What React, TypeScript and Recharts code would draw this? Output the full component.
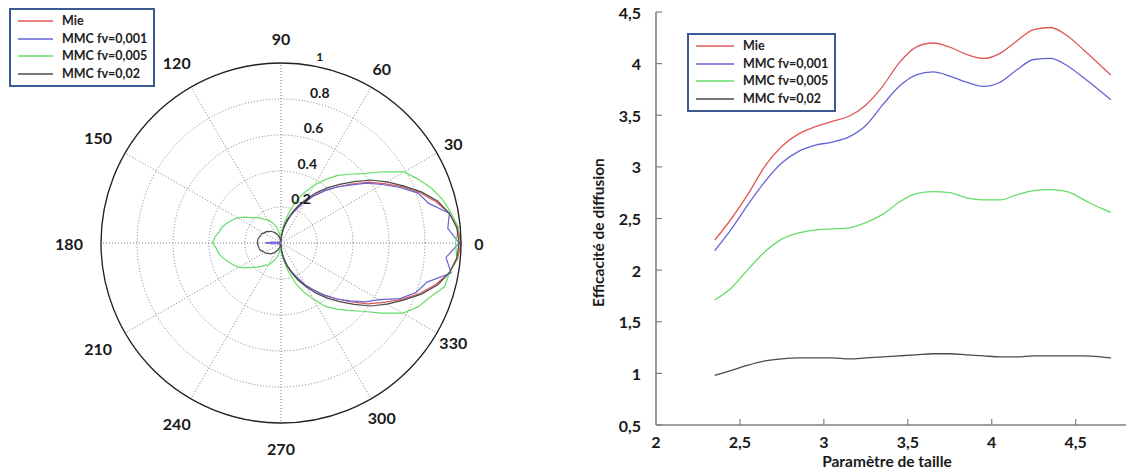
import React from "react";
import {
  RadarChart,
  PolarGrid,
  PolarAngleAxis,
  PolarRadiusAxis,
  Radar,
  Legend,
  LineChart,
  Line,
  XAxis,
  YAxis,
  Label,
} from "recharts";

// ---- polar plot (phase function, normalised) ----
const angles = [
  0, 5, 10, 15, 20, 25, 30, 35, 40, 45, 50, 55, 60, 65, 70, 75, 80, 85, 90,
  95, 100, 105, 110, 115, 120, 125, 130, 135, 140, 145, 150, 155, 160, 165,
  170, 175, 180, 185, 190, 195, 200, 205, 210, 215, 220, 225, 230, 235, 240,
  245, 250, 255, 260, 265, 270, 275, 280, 285, 290, 295, 300, 305, 310, 315,
  320, 325, 330, 335, 340, 345, 350, 355,
];

const mie = [
  1.0, 0.985, 0.95, 0.89, 0.82, 0.74, 0.66, 0.59, 0.51, 0.44, 0.38, 0.32, 0.27,
  0.22, 0.17, 0.13, 0.09, 0.05, 0.02,
  0.01, 0.01, 0.01, 0.01, 0.01, 0.01, 0.01, 0.01, 0.01, 0.01, 0.01, 0.01, 0.01,
  0.01, 0.01, 0.01, 0.01, 0.01, 0.01, 0.01, 0.01, 0.01, 0.01, 0.01, 0.01, 0.01,
  0.01, 0.01, 0.01, 0.01, 0.01, 0.01, 0.01, 0.01, 0.01,
  0.02, 0.05, 0.09, 0.13, 0.17, 0.22, 0.27, 0.32, 0.38, 0.44, 0.51, 0.59, 0.66,
  0.74, 0.82, 0.89, 0.95, 0.985,
];

const mmc001 = [
  0.99, 0.93, 0.95, 0.85, 0.81, 0.73, 0.65, 0.58, 0.5, 0.44, 0.38, 0.32, 0.27,
  0.21, 0.17, 0.12, 0.08, 0.05, 0.02,
  0.01, 0.01, 0.01, 0.01, 0.01, 0.01, 0.01, 0.01, 0.01, 0.01, 0.01, 0.01, 0.01,
  0.01, 0.01,
  0.02, 0.05, 0.09, 0.05, 0.02,
  0.01, 0.01, 0.01, 0.01, 0.01, 0.01, 0.01, 0.01, 0.01, 0.01, 0.01, 0.01, 0.01,
  0.01, 0.01,
  0.02, 0.05, 0.08, 0.13, 0.17, 0.21, 0.27, 0.32, 0.38, 0.44, 0.5, 0.57, 0.63,
  0.73, 0.8, 0.84, 0.96, 0.92,
];

const mmc005 = [
  0.97, 0.99, 0.96, 0.93, 0.89, 0.84, 0.79, 0.69, 0.6, 0.54, 0.49, 0.43, 0.37,
  0.31, 0.25, 0.18, 0.12, 0.07, 0.04,
  0.03, 0.06, 0.09, 0.11, 0.13, 0.15, 0.16, 0.18, 0.2, 0.22, 0.25, 0.28, 0.3,
  0.32, 0.34, 0.35, 0.37, 0.38,
  0.36, 0.35, 0.33, 0.31, 0.29, 0.27, 0.24, 0.21, 0.19, 0.17, 0.15, 0.14, 0.12,
  0.1, 0.08, 0.05, 0.03,
  0.04, 0.07, 0.11, 0.17, 0.24, 0.3, 0.36, 0.43, 0.48, 0.53, 0.59, 0.68, 0.78,
  0.84, 0.88, 0.94, 0.95, 0.98,
];

const mmc02 = [
  0.99, 0.98, 0.95, 0.9, 0.83, 0.75, 0.68, 0.61, 0.53, 0.46, 0.4, 0.34, 0.28,
  0.23, 0.18, 0.13, 0.09, 0.05, 0.01,
  0.01, 0.02, 0.035, 0.045, 0.055, 0.065, 0.075, 0.085, 0.09, 0.1, 0.105, 0.11,
  0.12, 0.12, 0.125, 0.13, 0.13, 0.13,
  0.13, 0.125, 0.125, 0.12, 0.11, 0.105, 0.1, 0.09, 0.085, 0.075, 0.065, 0.055,
  0.045, 0.035, 0.02, 0.01, 0.01,
  0.01, 0.05, 0.09, 0.13, 0.18, 0.23, 0.28, 0.34, 0.4, 0.46, 0.53, 0.61, 0.68,
  0.75, 0.83, 0.9, 0.95, 0.98,
];

const gridAngles = [0, 30, 60, 90, 120, 150, 180, 210, 240, 270, 300, 330];
const radiusTicks = [0, 0.2, 0.4, 0.6, 0.8, 1];

// ---- efficiency vs size parameter ----
const sizeParam = [
  2.35, 2.45, 2.55, 2.65, 2.75, 2.85, 2.95, 3.05, 3.15, 3.25, 3.35, 3.45, 3.55,
  3.65, 3.75, 3.85, 3.95, 4.05, 4.15, 4.25, 4.35, 4.45, 4.55, 4.65, 4.71,
];
const qMie = [
  2.29, 2.5, 2.74, 3.01, 3.2, 3.32, 3.39, 3.44, 3.49, 3.6, 3.78, 4.01, 4.16,
  4.2, 4.16, 4.09, 4.05, 4.1, 4.22, 4.33, 4.35, 4.27, 4.13, 3.98, 3.89,
];
const q001 = [
  2.19, 2.4, 2.64, 2.86, 3.04, 3.15, 3.21, 3.24, 3.29, 3.4, 3.6, 3.78, 3.89,
  3.92, 3.88, 3.82, 3.78, 3.82, 3.94, 4.04, 4.05, 3.98, 3.86, 3.73, 3.65,
];
const q005 = [
  1.71, 1.83, 2.01, 2.18, 2.3, 2.36, 2.39, 2.4, 2.41, 2.46, 2.54, 2.66, 2.74,
  2.76, 2.75, 2.7, 2.68, 2.68, 2.73, 2.77, 2.78, 2.76, 2.68, 2.6, 2.56,
];
const q02 = [
  0.98, 1.03, 1.08, 1.12, 1.14, 1.15, 1.15, 1.15, 1.14, 1.15, 1.16, 1.17, 1.18,
  1.19, 1.19, 1.18, 1.17, 1.16, 1.16, 1.17, 1.17, 1.17, 1.17, 1.16, 1.15,
];
const xTicks = [2, 2.5, 3, 3.5, 4, 4.5];
const yTicks = [0.5, 1, 1.5, 2, 2.5, 3, 3.5, 4, 4.5];

const seriesNames = ["Mie", "MMC fv=0,001", "MMC fv=0,005", "MMC fv=0,02"];
const seriesKeys = ["mie", "f001", "f005", "f02"];
const COLORS = ["#e05858", "#6565d6", "#66dd66", "#4a4a4a"];

const FONT = "Lato, 'Open Sans', sans-serif";
const AXIS = "#808080";

const polarData = angles.map((a, i) => ({
  angle: a,
  mie: mie[i],
  f001: mmc001[i],
  f005: mmc005[i],
  f02: mmc02[i],
}));

const lineData = sizeParam.map((x, i) => ({
  x,
  mie: qMie[i],
  f001: q001[i],
  f005: q005[i],
  f02: q02[i],
}));

const comma = (v: number) => String(v).replace(".", ",");

function LegendBox({ lineLen }: { lineLen: number }) {
  return (
    <div
      style={{
        display: "inline-block",
        border: "2px solid #3a5b8f",
        background: "#fff",
        padding: "2px 6px 2px 7px",
        fontFamily: FONT,
        fontWeight: 700,
        fontSize: 12.5,
        lineHeight: "17.7px",
        color: "#222",
      }}
    >
      {seriesNames.map((n, i) => (
        <div
          key={n}
          style={{ display: "flex", alignItems: "center", whiteSpace: "nowrap" }}
        >
          <svg width={lineLen} height={4} style={{ marginRight: 9 }}>
            <line x1={0} y1={2} x2={lineLen} y2={2} stroke={COLORS[i]} strokeWidth={1.5} />
          </svg>
          <span>{n}</span>
        </div>
      ))}
    </div>
  );
}

const CX = 281;
const CY = 243;
const R = 180;

// labels placed by their angle value (the band scale shifts tick coordinates)
const AngleTick = (props: any) => {
  const { payload } = props;
  const v = Number(payload.value);
  if (v % 30 !== 0) return <g />;
  const rad = (-v * Math.PI) / 180;
  const lr = R + 25 - 7 * Math.cos(rad);
  const lx = CX + lr * Math.cos(rad);
  const ly = CY + lr * Math.sin(rad);
  return (
    <text
      x={lx}
      y={ly}
      textAnchor="middle"
      dominantBaseline="central"
      fontFamily={FONT}
      fontWeight={700}
      fontSize={16}
      fill="#1a1a1a"
    >
      {v}
    </text>
  );
};

const RadiusTick = (props: any) => {
  const { x, y, payload } = props;
  if (payload.value === 0) return <g />;
  return (
    <text
      x={x + 4}
      y={y - 9}
      textAnchor="start"
      dominantBaseline="central"
      fontFamily={FONT}
      fontWeight={700}
      fontSize={payload.value === 1 ? 12 : 14}
      fill="#1a1a1a"
    >
      {Number(Number(payload.value).toFixed(1))}
    </text>
  );
};

const YTick = (props: any) => {
  const { x, y, payload } = props;
  return (
    <g>
      <line x1={x + 15} y1={y} x2={x + 21} y2={y} stroke={AXIS} strokeWidth={1.2} />
      <text
        x={x}
        y={y}
        textAnchor="end"
        dominantBaseline="central"
        fontFamily={FONT}
        fontWeight={700}
        fontSize={16}
        fill="#1a1a1a"
      >
        {comma(payload.value)}
      </text>
    </g>
  );
};

const XTick = (props: any) => {
  const { x, y, payload } = props;
  return (
    <g>
      {payload.value !== 2 && (
        <line x1={x} y1={y - 11} x2={x} y2={y - 17} stroke={AXIS} strokeWidth={1.2} />
      )}
      <text
        x={x}
        y={y}
        dy="0.72em"
        textAnchor="middle"
        fontFamily={FONT}
        fontWeight={700}
        fontSize={16}
        fill="#1a1a1a"
      >
        {comma(payload.value)}
      </text>
    </g>
  );
};

export default function App() {
  return (
    <div
      style={{
        position: "absolute",
        left: 0,
        top: 0,
        width: 1126,
        height: 470,
        background: "#fff",
      }}
    >
      <div style={{ position: "absolute", left: 0, top: 0 }}>
        <RadarChart
          width={560}
          height={470}
          data={polarData}
          cx={CX}
          cy={CY}
          outerRadius={R}
          startAngle={-5}
          endAngle={355}
          margin={{ top: 0, right: 0, bottom: 0, left: 0 }}
        >
          <PolarGrid
            gridType="circle"
            polarAngles={gridAngles}
            stroke="#808080"
            strokeDasharray="1 2"
          />
          <PolarAngleAxis
            dataKey="angle"
            tick={AngleTick}
            tickLine={false}
            axisLine={{ stroke: "#222", strokeWidth: 1.3 }}
            axisLineType="circle"
          />
          <PolarRadiusAxis
            type="number"
            angle={80}
            domain={[0, 1]}
            ticks={radiusTicks as any}
            tickCount={6}
            allowDecimals={true}
            axisLine={false}
            tickLine={false}
            tick={RadiusTick}
          />
          {seriesKeys.map((k, i) => (
            <Radar
              key={k}
              name={seriesNames[i]}
              dataKey={k}
              stroke={COLORS[i]}
              strokeWidth={1.2}
              fill="none"
              fillOpacity={0}
              dot={false}
              isAnimationActive={false}
            />
          ))}
          <Legend
            layout="horizontal"
            verticalAlign="middle"
            align="center"
            content={() => <LegendBox lineLen={35} />}
            wrapperStyle={{ left: 9, top: 8, width: "auto", height: "auto" }}
          />
        </RadarChart>
      </div>

      <div style={{ position: "absolute", left: 560, top: 0 }}>
        <LineChart
          width={566}
          height={470}
          data={lineData}
          margin={{ top: 12, right: 0, bottom: 0, left: 0 }}
        >
          <XAxis
            type="number"
            dataKey="x"
            domain={[2, 4.8]}
            ticks={xTicks}
            interval={0}
            height={45}
            tickSize={0}
            tickMargin={11}
            tick={XTick}
            axisLine={{ stroke: AXIS, strokeWidth: 1.6 }}
          >
            <Label
              content={(p: any) => {
                const vb = p.viewBox || { x: 96, y: 425, width: 470, height: 45 };
                return (
                  <text
                    x={vb.x + vb.width / 2 - 4}
                    y={vb.y + 36}
                    textAnchor="middle"
                    dominantBaseline="central"
                    fontFamily={FONT}
                    fontWeight={700}
                    fontSize={15.5}
                    fill="#1a1a1a"
                  >
                    Paramètre de taille
                  </text>
                );
              }}
            />
          </XAxis>
          <YAxis
            domain={[0.5, 4.5]}
            ticks={yTicks}
            interval={0}
            width={96}
            tickSize={0}
            tickMargin={15}
            tick={YTick}
            axisLine={{ stroke: AXIS, strokeWidth: 1.6 }}
          >
            <Label
              content={(p: any) => {
                const vb = p.viewBox || { x: 0, y: 12, width: 96, height: 413 };
                const lx = vb.x + 38;
                const ly = vb.y + vb.height / 2 + 14;
                return (
                  <text
                    x={lx}
                    y={ly}
                    transform={`rotate(-90, ${lx}, ${ly})`}
                    textAnchor="middle"
                    dominantBaseline="central"
                    fontFamily={FONT}
                    fontWeight={700}
                    fontSize={15.5}
                    fill="#1a1a1a"
                  >
                    Efficacité de diffusion
                  </text>
                );
              }}
            />
          </YAxis>
          {seriesKeys.map((k, i) => (
            <Line
              key={k}
              type="monotone"
              dataKey={k}
              name={seriesNames[i]}
              stroke={COLORS[i]}
              strokeWidth={1.3}
              dot={false}
              isAnimationActive={false}
            />
          ))}
          <Legend
            layout="horizontal"
            verticalAlign="middle"
            align="center"
            content={() => <LegendBox lineLen={38} />}
            wrapperStyle={{ left: 127, top: 33, width: "auto", height: "auto" }}
          />
        </LineChart>
      </div>
    </div>
  );
}
